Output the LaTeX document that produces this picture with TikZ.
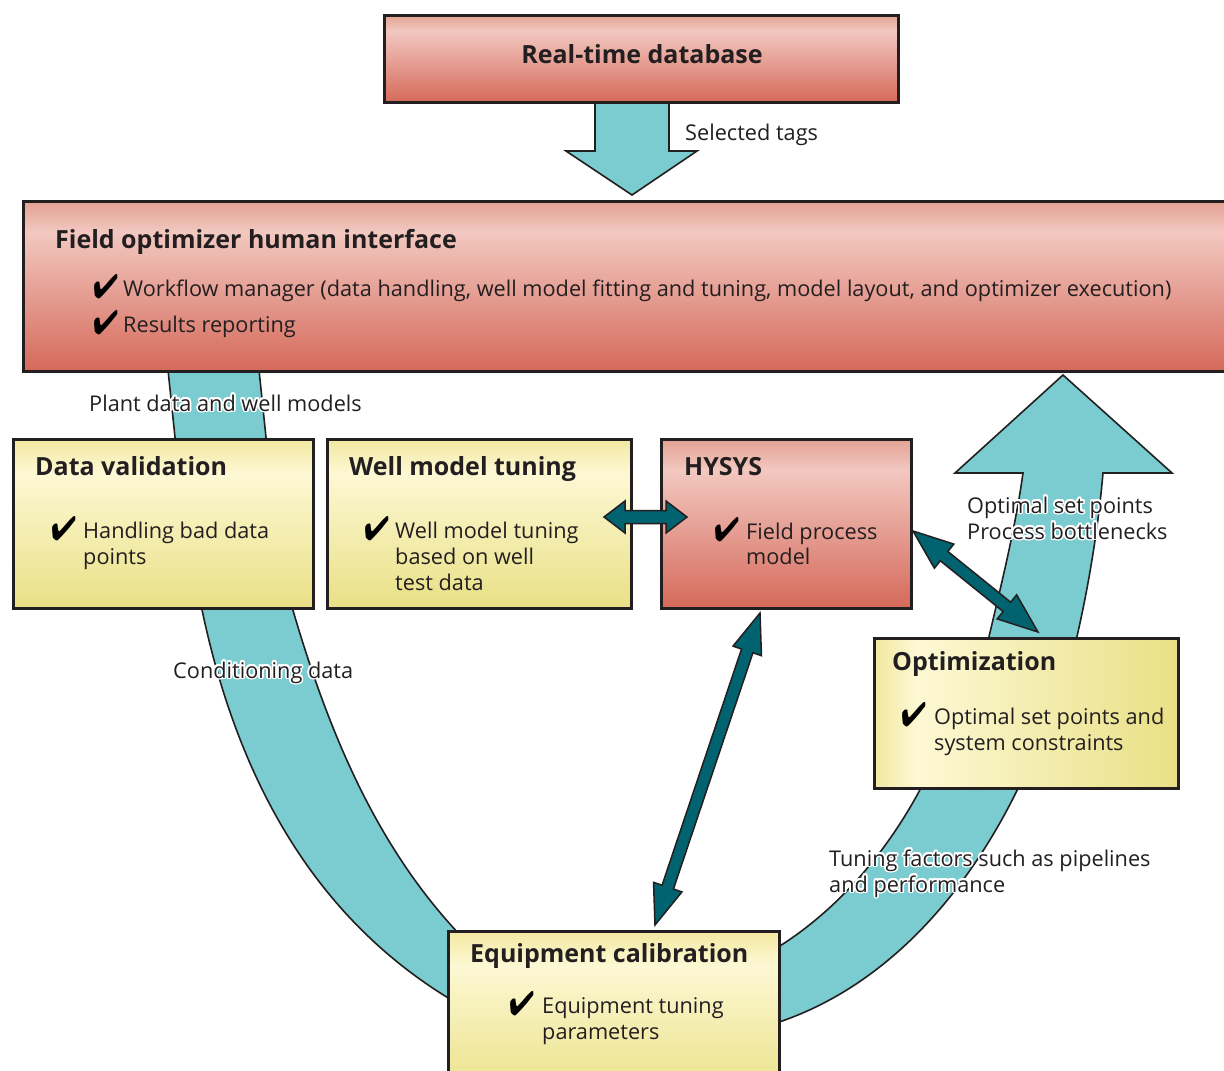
\documentclass[tikz,border=0pt]{standalone}
\usepackage{fontspec}
\setmainfont{Open Sans}
\usepackage{pifont}
\usepackage{contour}
\contourlength{1.6pt}
\usetikzlibrary{calc}
\definecolor{cyanband}{HTML}{7ACCD0}
\definecolor{darrow}{HTML}{00636F}
\definecolor{ink}{HTML}{231F20}
\definecolor{rtop}{HTML}{E2A293}
\definecolor{rlight}{HTML}{F2C8C0}
\definecolor{rbot}{HTML}{D5695A}
\definecolor{ytop}{HTML}{F2E8A0}
\definecolor{ylight}{HTML}{FDF8D4}
\definecolor{ybot}{HTML}{E9E085}
\pgfdeclareverticalshading{redsh}{100bp}{color(0bp)=(rbot); color(25bp)=(rbot); color(66bp)=(rlight); color(75bp)=(rtop); color(100bp)=(rtop)}
\pgfdeclareverticalshading{ylwsh}{100bp}{color(0bp)=(ybot); color(25bp)=(ybot); color(65bp)=(ylight); color(75bp)=(ytop); color(100bp)=(ytop)}
\pgfdeclarehorizontalshading{optsh}{100bp}{color(0bp)=(ytop); color(25bp)=(ytop); color(32bp)=(ylight); color(75bp)=(ybot); color(100bp)=(ybot)}
\tikzset{
  box/.style={draw=ink, line width=2.8pt, rectangle, inner sep=0pt, anchor=north west},
  redbox/.style={box, shading=redsh},
  ylwbox/.style={box, shading=ylwsh},
  optbox/.style={box, shading=optsh},
  band/.style={fill=cyanband, draw=ink, line width=1.6pt, line join=miter},
  dbl/.style={fill=darrow, draw=ink, line width=1.5pt, line join=miter},
  title/.style={anchor=base west, font=\bfseries\fontsize{25}{28}\selectfont, text=ink, inner sep=0pt},
  body/.style={anchor=base west, font=\fontsize{21.7}{26}\selectfont, text=ink, inner sep=0pt},
  chk/.style={anchor=base west, font=\fontsize{34}{34}\selectfont, text=black, inner sep=0pt},
}
\newcommand\dblarr[5]{% start, end, shaft half, head half, head length
  \draw[dbl] (#1)
    -- ($(#1)!#5!(#2)!#4!90:(#2)$) -- ($(#1)!#5!(#2)!#3!90:(#2)$)
    -- ($(#2)!#5!(#1)!#3!-90:(#1)$) -- ($(#2)!#5!(#1)!#4!-90:(#1)$)
    -- (#2)
    -- ($(#2)!#5!(#1)!#4!90:(#1)$) -- ($(#2)!#5!(#1)!#3!90:(#1)$)
    -- ($(#1)!#5!(#2)!#3!-90:(#2)$) -- ($(#1)!#5!(#2)!#4!-90:(#2)$)
    -- cycle;}
\newcommand\ck{\scalebox{0.88}[1]{\ding{52}}}
\begin{document}
\begin{tikzpicture}[x=1pt,y=-1pt]
\useasboundingbox (0,0) rectangle (1224,1071);
\fill[white] (0,0) rectangle (1224,1071);
% flow bands
\draw[band] (595,95) -- (595,151) -- (566,151) -- (632,195) -- (697,151) -- (669,151) -- (669,95) -- cycle;
\draw[band] (167.5,365) -- (175.8,445) -- (266.8,445) -- (258.5,365) -- cycle;
\draw[band] (200,600) .. controls (240,800) and (330,930) .. (460,1005) -- (460,935) .. controls (380,850) and (330,740) .. (290,600) -- cycle;
\draw[band] (770,952) .. controls (850,905) and (900,830) .. (925,780) -- (1022,780) .. controls (980,870) and (900,985) .. (770,1025) -- cycle;
\draw[band] (987,645) .. controls (1000,590) and (1015,530) .. (1023,473) -- (955,473) -- (1063,375) -- (1172,473) -- (1103,473) .. controls (1098,530) and (1088,590) .. (1075,645) -- cycle;
% boxes
\node[redbox, minimum width=514pt, minimum height=87pt] (rtdb) at (383,14) {};
\node[redbox, minimum width=1230pt, minimum height=170pt] (foi) at (22,200) {};
\node[ylwbox, minimum width=300pt, minimum height=169pt] (dv) at (12,438) {};
\node[ylwbox, minimum width=304pt, minimum height=169pt] (wmt) at (326,438) {};
\node[redbox, minimum width=250pt, minimum height=169pt] (hys) at (660,438) {};
\node[optbox, minimum width=304pt, minimum height=150pt] (opt) at (873,637) {};
\node[ylwbox, minimum width=331pt, minimum height=170pt] (ec) at (447,930) {};
% double arrows
\coordinate (a1) at (604,517); \coordinate (a2) at (687,517);
\coordinate (b1) at (913,531); \coordinate (b2) at (1038,632);
\coordinate (c1) at (760,613); \coordinate (c2) at (655,925);
\dblarr{a1}{a2}{6.5pt}{16pt}{21pt}
\dblarr{b1}{b2}{6pt}{15.5pt}{40pt}
\dblarr{c1}{c2}{6pt}{15pt}{40pt}
% texts
\node[title, anchor=base] (rtdbT) at (642,63) {Real-time database};
\node[body] (selT) at (685,140) {Selected tags};
\node[title] (foiT) at (55,248) {Field optimizer human interface};
\node[chk] (foiC1) at (93,298) {\ck};
\node[body] (foi1) at (123,296) {Workflow manager (data handling, well model fitting and tuning, model layout, and optimizer execution)};
\node[chk] (foiC2) at (93,334) {\ck};
\node[body] (foi2) at (123,332) {Results reporting};
\node[body] (plT) at (89,411) {\contour{white}{Plant data and well models}};
\node[title] (dvT) at (35,475) {Data validation};
\node[chk] (dvC) at (51,540) {\ck};
\node[body] (dv1) at (83,538) {Handling bad data};
\node[body] (dv2) at (83,564) {points};
\node[title] (wmtT) at (349,475) {Well model tuning};
\node[chk] (wmtC) at (364,540) {\ck};
\node[body] (wmt1) at (395,538) {Well model tuning};
\node[body] (wmt2) at (395,564) {based on well};
\node[body] (wmt3) at (395,590) {test data};
\node[title] (hysT) at (684,475) {HYSYS};
\node[chk] (hysC) at (714,541) {\ck};
\node[body] (hys1) at (746,539) {Field process};
\node[body] (hys2) at (746,564) {model};
\node[body] (optl1) at (967,513) {\contour{white}{Optimal set points}};
\node[body] (optl2) at (967,539) {\contour{white}{Process bottlenecks}};
\node[body] (condT) at (173,678) {\contour{white}{Conditioning data}};
\node[title] (optT) at (892,670) {Optimization};
\node[chk] (optC) at (901,726) {\ck};
\node[body] (opt1) at (934,724) {Optimal set points and};
\node[body] (opt2) at (934,750) {system constraints};
\node[body] (tun1) at (829,866) {\contour{white}{Tuning factors such as pipelines}};
\node[body] (tun2) at (829,892) {\contour{white}{and performance}};
\node[title] (ecT) at (470,962) {Equipment calibration};
\node[chk] (ecC) at (509,1015) {\ck};
\node[body] (ec1) at (542,1013) {Equipment tuning};
\node[body] (ec2) at (542,1039) {parameters};
\end{tikzpicture}
\end{document}
